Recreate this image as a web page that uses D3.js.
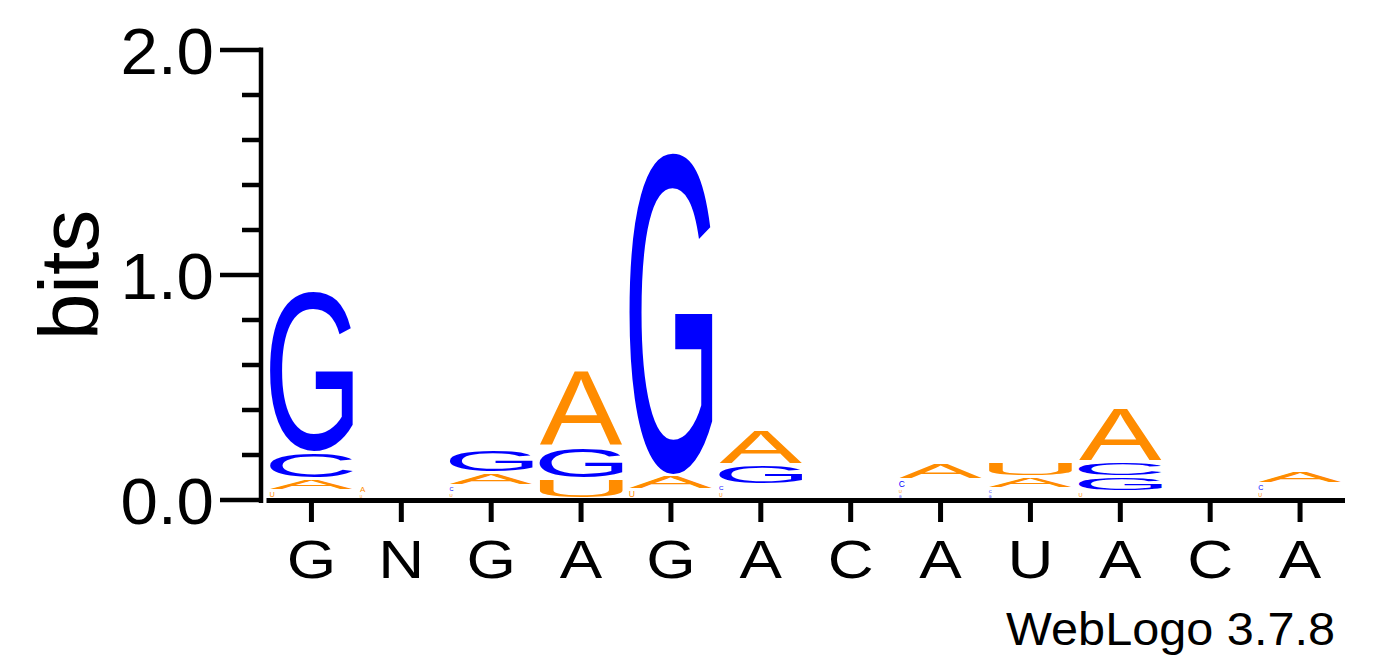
<!DOCTYPE html>
<html><head><meta charset="utf-8">
<script src="https://cdn.jsdelivr.net/npm/d3@7"></script>
<style>html,body{margin:0;padding:0;background:#fff;}svg{display:block;}</style>
</head><body>
<script>
// ---- data (bits per letter per position) ----
const positions = ["G","N","G","A","G","A","C","A","U","A","C","A"];
const alphabet = ["A","C","G","U"];
const bitsA = [0.053, 0.038, 0.058, 0.342, 0.062, 0.156, 0, 0.076, 0.053, 0.244, 0, 0.058];
const bitsC = [0.116, 0,     0.031, 0,     0,     0.033, 0, 0.040, 0.024, 0.068, 0, 0.036];
const bitsG = [0.720, 0,     0.107, 0.142, 1.440, 0.089, 0, 0.018, 0.020, 0.066, 0, 0];
const bitsU = [0.036, 0.020, 0.027, 0.089, 0.040, 0.029, 0, 0.027, 0.067, 0.031, 0, 0.030];
const yTicks = [0, 1, 2];
const yMinor = [0.2, 0.4, 0.6, 0.8, 1.2, 1.4, 1.6, 1.8];
const colors = {A:"#FF8C00", U:"#FF8C00", C:"#0000FF", G:"#0000FF"};
const fineprint = "WebLogo 3.7.8";
const yLabel = "bits";

const W = 1392, H = 667;
const FONT = "'Liberation Sans', Arial, Helvetica, sans-serif";
const svg = d3.select("body").append("svg").attr("width", W).attr("height", H);

const y = d3.scaleLinear().domain([0, 2]).range([500, 50]);
const x = d3.scaleBand().domain(d3.range(positions.length)).range([266.5, 1345]).padding(0);

// ink metrics via canvas
const cv = document.createElement("canvas").getContext("2d");
const MF = 200;
cv.font = MF + "px " + FONT;
const metrics = {};
alphabet.forEach(l => {
  const m = cv.measureText(l);
  metrics[l] = {L: m.actualBoundingBoxLeft, R: m.actualBoundingBoxRight,
                A: m.actualBoundingBoxAscent, D: m.actualBoundingBoxDescent};
});

const table = {A: bitsA, C: bitsC, G: bitsG, U: bitsU};
const stacks = positions.map((p, i) => {
  const items = alphabet.map(l => ({letter: l, h: table[l][i]})).filter(d => d.h > 0);
  items.sort((a, b) => a.h - b.h);
  let cum = 0;
  items.forEach(d => { d.y0 = cum; cum += d.h; d.y1 = cum; d.col = i; });
  return items;
});

const letterG = svg.append("g");
stacks.flat().forEach(d => {
  const m = metrics[d.letter];
  const inkW = m.L + m.R, inkH = m.A + m.D;
  const bx0 = x(d.col) + 3.5, bw = x.bandwidth() - 7;
  const top = y(d.y1), bottom = y(d.y0);
  const boxH = bottom - top;
  const gap = boxH >= 6 ? 3 : boxH * 0.45;
  const h = Math.max(boxH - gap, 0.6);
  const sy = h / inkH;
  // very small glyphs are rasterised at their natural proportions (as in the original renderer)
  const sx = boxH < 10 ? sy : bw / inkW;
  letterG.append("text")
    .attr("transform", `translate(${bx0},${top}) scale(${sx},${sy})`)
    .attr("x", m.L).attr("y", m.A)
    .attr("font-family", FONT).attr("font-size", MF)
    .attr("fill", colors[d.letter])
    .text(d.letter);
});

// y axis
svg.append("line").attr("x1", 261).attr("x2", 261).attr("y1", y(2) - 2.5).attr("y2", y(0) + 3)
  .attr("stroke", "#000").attr("stroke-width", 4.5);
svg.selectAll(".ymaj").data(yTicks).enter().append("line")
  .attr("x1", 220).attr("x2", 261).attr("y1", d => y(d)).attr("y2", d => y(d))
  .attr("stroke", "#000").attr("stroke-width", 4.5);
svg.selectAll(".ymin").data(yMinor).enter().append("line")
  .attr("x1", 242).attr("x2", 261).attr("y1", d => y(d)).attr("y2", d => y(d))
  .attr("stroke", "#000").attr("stroke-width", 4.5);
svg.selectAll(".ylab").data(yTicks).enter().append("text")
  .attr("transform", d => `translate(214,${y(d) + 24}) scale(1.05,1)`)
  .attr("text-anchor", "end").attr("font-family", FONT).attr("font-size", 64)
  .text(d => d.toFixed(1));
svg.append("text").attr("transform", "translate(98,275) rotate(-90)")
  .attr("text-anchor", "middle").attr("font-family", FONT).attr("font-size", 84)
  .text(yLabel);

// x axis
svg.append("line").attr("x1", 266.5).attr("x2", 1345).attr("y1", 500.5).attr("y2", 500.5)
  .attr("stroke", "#000").attr("stroke-width", 5);
svg.selectAll(".xt").data(positions).enter().append("line")
  .attr("x1", (d, i) => x(i) + x.bandwidth() / 2).attr("x2", (d, i) => x(i) + x.bandwidth() / 2)
  .attr("y1", 500).attr("y2", 522).attr("stroke", "#000").attr("stroke-width", 5);
svg.selectAll(".xl").data(positions).enter().append("text")
  .attr("transform", (d, i) => `translate(${x(i) + x.bandwidth() / 2},578) scale(1.2,1)`)
  .attr("text-anchor", "middle").attr("font-family", FONT).attr("font-size", 53)
  .text(d => d);

svg.append("text").attr("transform", "translate(1335,645) scale(1.035,1)").attr("text-anchor", "end")
  .attr("font-family", FONT).attr("font-size", 47).text(fineprint);
</script>
</body></html>
